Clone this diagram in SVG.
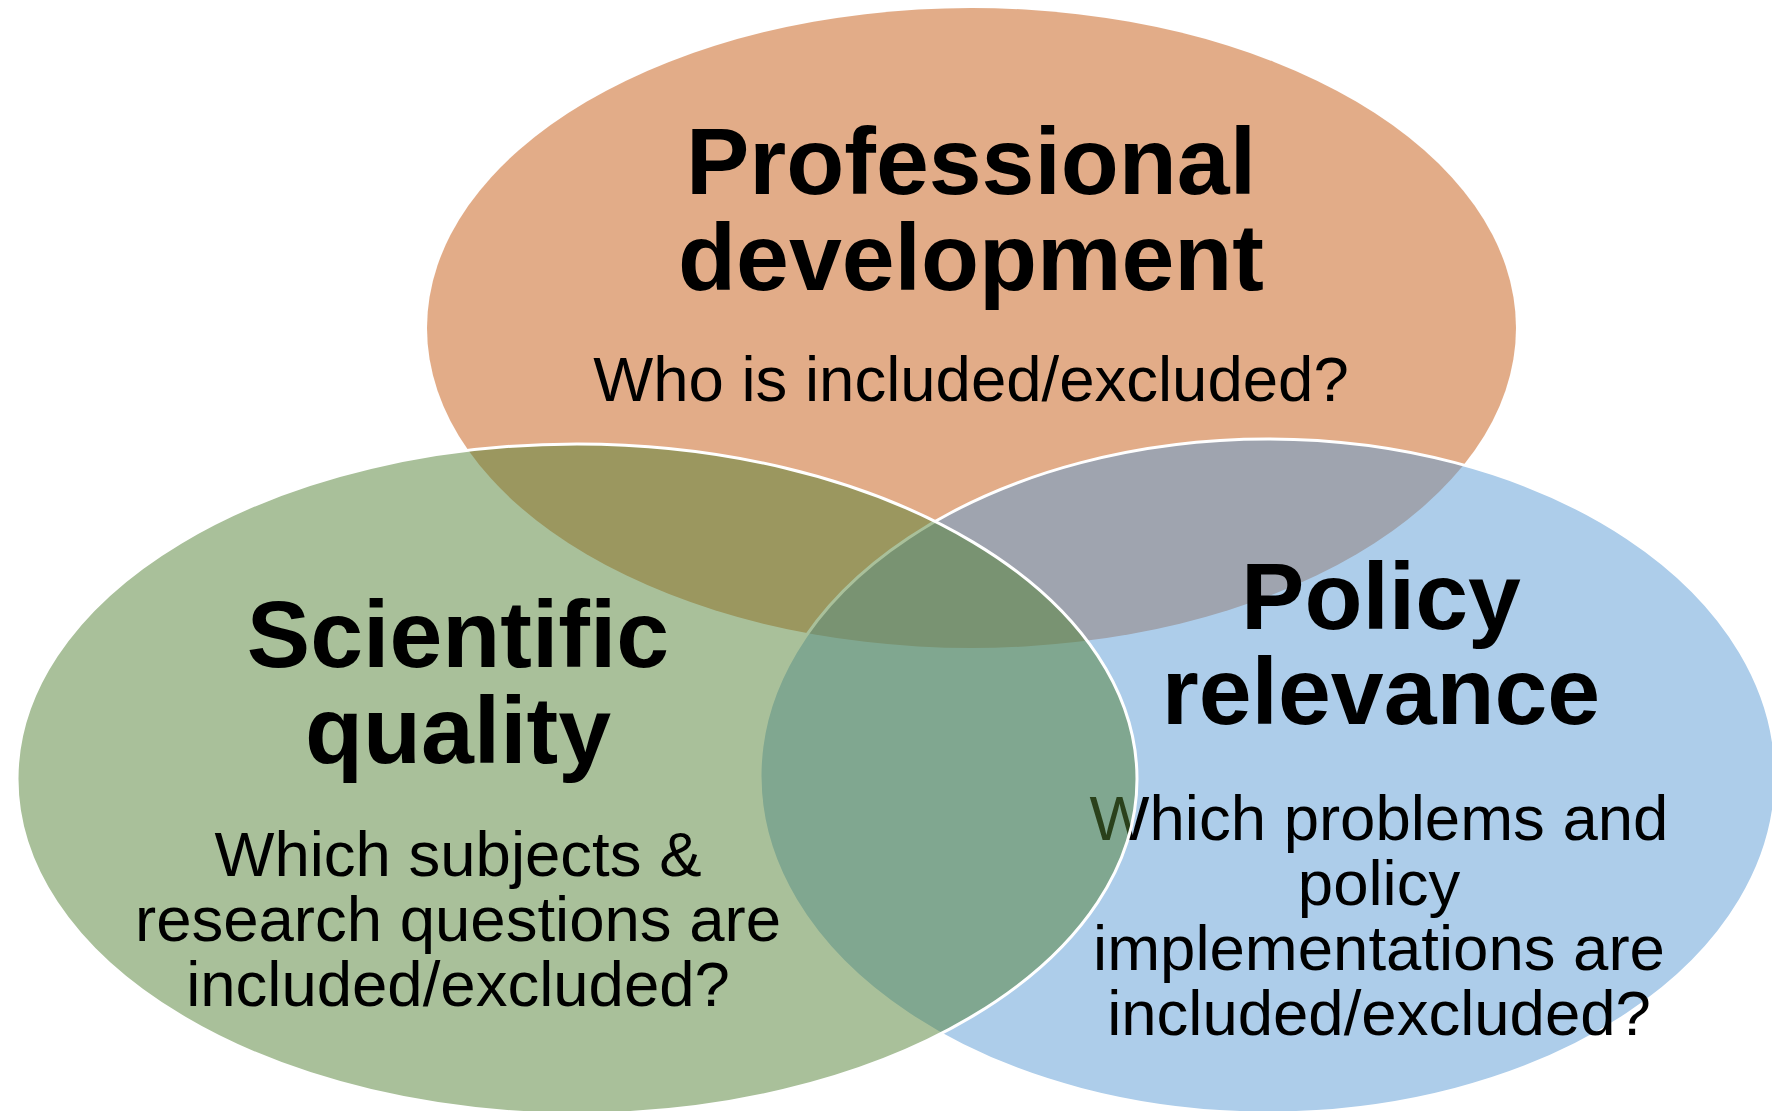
<svg xmlns="http://www.w3.org/2000/svg" width="1772" height="1111" viewBox="0 0 1772 1111">
  <style>
    .set { fill-opacity: 0.5; }
    .edge { stroke: #FFFFFF; stroke-width: 3; }
    .title { font-family: "Liberation Sans", Arial, sans-serif; font-weight: bold; font-size: 95px; fill: #000000; text-anchor: middle; }
    .question { font-family: "Liberation Sans", Arial, sans-serif; font-size: 63.5px; fill: #000000; text-anchor: middle; }
  </style>
  <rect width="1772" height="1111" fill="#FFFFFF"/>

  <!-- Professional development (bottom layer) -->
  <g id="professional-development">
    <ellipse class="set" cx="971.5" cy="328" rx="544.5" ry="320" fill="#C55A11"/>
    <text class="title" x="971" y="194">Professional</text>
    <text class="title" x="971" y="290">development</text>
    <text class="question" x="971" y="401">Who is included/excluded?</text>
  </g>

  <!-- Policy relevance -->
  <g id="policy-relevance">
    <ellipse class="set edge" cx="1268" cy="776" rx="508" ry="337" fill="#5B9BD5"/>
    <text class="title" x="1381" y="629">Policy</text>
    <text class="title" x="1381" y="724">relevance</text>
    <text class="question" x="1379" y="840">Which problems and</text>
    <text class="question" x="1379" y="905">policy</text>
    <text class="question" x="1379" y="970">implementations are</text>
    <text class="question" x="1379" y="1035">included/excluded?</text>
  </g>

  <!-- Scientific quality (top layer) -->
  <g id="scientific-quality">
    <ellipse class="set edge" cx="577" cy="779" rx="560" ry="335" fill="#548235"/>
    <text class="title" x="458" y="667">Scientific</text>
    <text class="title" x="458" y="763">quality</text>
    <text class="question" x="458" y="876">Which subjects &amp;</text>
    <text class="question" x="458" y="941">research questions are</text>
    <text class="question" x="458" y="1006">included/excluded?</text>
  </g>
</svg>
